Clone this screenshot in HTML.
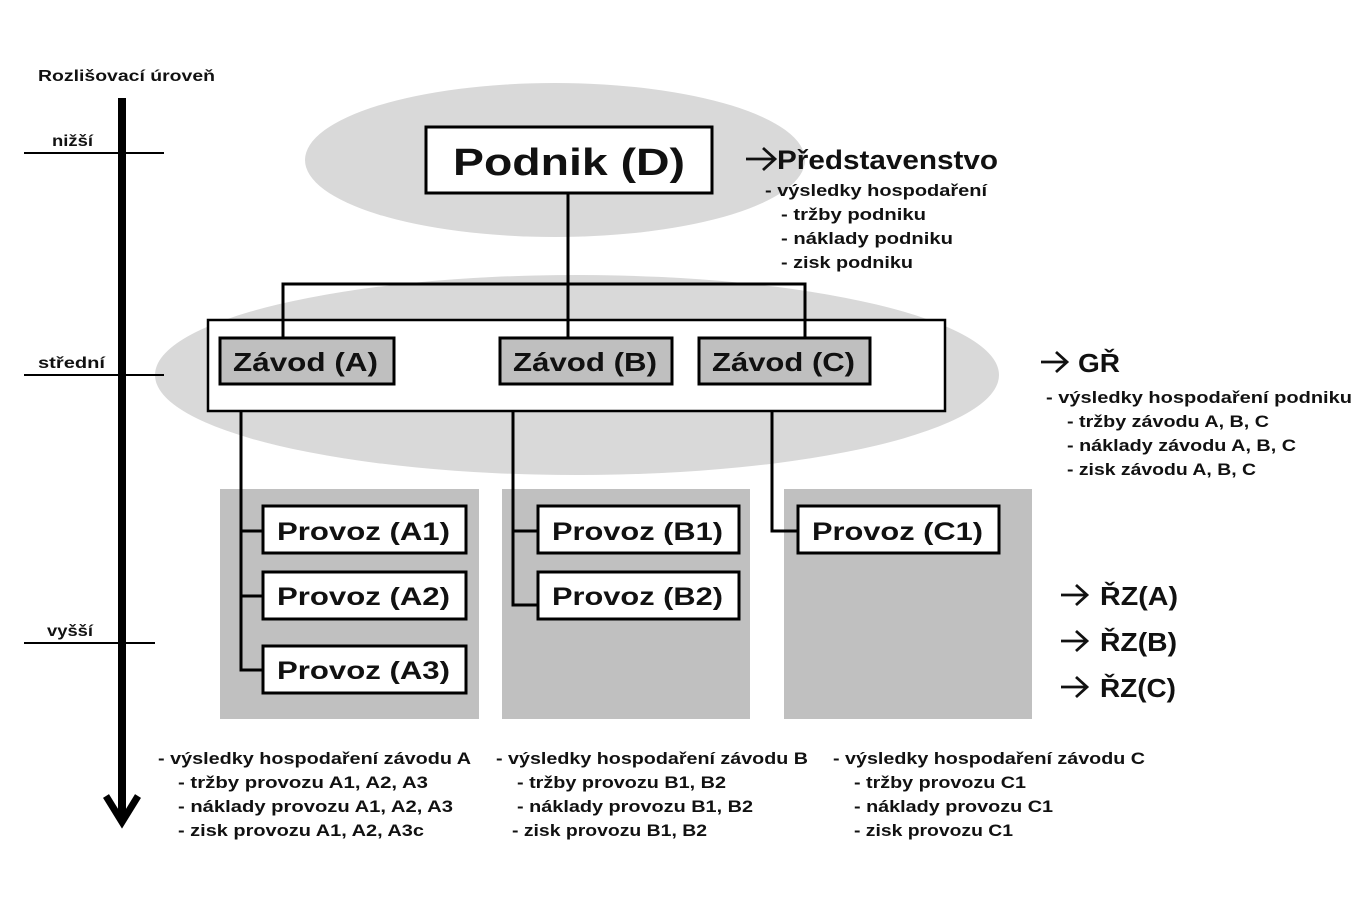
<!DOCTYPE html>
<html><head><meta charset="utf-8"><style>
html,body{margin:0;padding:0;background:#fff;}
svg{display:block;}
text{font-family:"Liberation Sans",sans-serif;font-weight:bold;fill:#111;}
</style></head><body>
<svg width="1371" height="898" viewBox="0 0 1371 898" xmlns="http://www.w3.org/2000/svg">
<ellipse cx="555" cy="160" rx="250" ry="77" fill="#d9d9d9"/>
<ellipse cx="577" cy="375" rx="422" ry="100" fill="#d9d9d9"/>
<rect x="220" y="489" width="259" height="230" fill="#c0c0c0"/>
<rect x="502" y="489" width="248" height="230" fill="#c0c0c0"/>
<rect x="784" y="489" width="248" height="230" fill="#c0c0c0"/>

<text x="38" y="81" font-size="16" textLength="177" lengthAdjust="spacingAndGlyphs">Rozlišovací úroveň</text>
<rect x="118" y="98" width="8" height="720" fill="#000"/>
<polyline points="106,796 122,822 138,796" fill="none" stroke="#000" stroke-width="7"/>
<line x1="24" y1="153" x2="164" y2="153" stroke="#000" stroke-width="2"/>
<line x1="24" y1="375" x2="164" y2="375" stroke="#000" stroke-width="2"/>
<line x1="24" y1="643" x2="155" y2="643" stroke="#000" stroke-width="2"/>
<text x="52" y="146" font-size="16" textLength="41" lengthAdjust="spacingAndGlyphs">nižší</text>
<text x="38" y="368" font-size="16" textLength="67" lengthAdjust="spacingAndGlyphs">střední</text>
<text x="47" y="636" font-size="16" textLength="46" lengthAdjust="spacingAndGlyphs">vyšší</text>

<g stroke="#000" stroke-width="3" fill="none">
<line x1="568" y1="193" x2="568" y2="337"/>
<polyline points="283,337 283,284 805,284 805,337"/>
<polyline points="241,411 241,670 262,670"/>
<line x1="241" y1="531" x2="262" y2="531"/>
<line x1="241" y1="596" x2="262" y2="596"/>
<polyline points="513,411 513,605 537,605"/>
<line x1="513" y1="531" x2="537" y2="531"/>
<polyline points="772,411 772,531 797,531"/>
</g>

<rect x="208" y="320" width="737" height="91" fill="#fff" stroke="#000" stroke-width="2.5"/>
<line x1="283" y1="320" x2="283" y2="337" stroke="#000" stroke-width="3"/>
<line x1="568" y1="320" x2="568" y2="337" stroke="#000" stroke-width="3"/>
<line x1="805" y1="320" x2="805" y2="337" stroke="#000" stroke-width="3"/>

<rect x="426" y="127" width="286" height="66" fill="#fff" stroke="#000" stroke-width="3"/>
<text x="453" y="175" font-size="38" textLength="232" lengthAdjust="spacingAndGlyphs">Podnik (D)</text>

<g fill="#bfbfbf" stroke="#000" stroke-width="3">
<rect x="220" y="338" width="174" height="46"/>
<rect x="500" y="338" width="172" height="46"/>
<rect x="699" y="338" width="171" height="46"/>
</g>
<text x="233" y="371" font-size="26" textLength="145" lengthAdjust="spacingAndGlyphs">Závod  (A)</text>
<text x="513" y="371" font-size="26" textLength="144" lengthAdjust="spacingAndGlyphs">Závod  (B)</text>
<text x="712" y="371" font-size="26" textLength="143" lengthAdjust="spacingAndGlyphs">Závod  (C)</text>

<g fill="#fff" stroke="#000" stroke-width="3">
<rect x="263" y="506" width="203" height="47"/>
<rect x="263" y="572" width="203" height="47"/>
<rect x="263" y="646" width="203" height="47"/>
<rect x="538" y="506" width="201" height="47"/>
<rect x="538" y="572" width="201" height="47"/>
<rect x="798" y="506" width="201" height="47"/>
</g>
<g font-size="25">
<text x="277" y="540" textLength="173" lengthAdjust="spacingAndGlyphs">Provoz  (A1)</text>
<text x="277" y="605" textLength="173" lengthAdjust="spacingAndGlyphs">Provoz  (A2)</text>
<text x="277" y="679" textLength="173" lengthAdjust="spacingAndGlyphs">Provoz  (A3)</text>
<text x="552" y="540" textLength="171" lengthAdjust="spacingAndGlyphs">Provoz  (B1)</text>
<text x="552" y="605" textLength="171" lengthAdjust="spacingAndGlyphs">Provoz  (B2)</text>
<text x="812" y="540" textLength="171" lengthAdjust="spacingAndGlyphs">Provoz  (C1)</text>
</g>

<!-- arrows -->
<g stroke="#111" stroke-width="2.8" fill="none">
<line x1="746" y1="159" x2="774" y2="159"/><polyline points="763,148 775,159 763,170"/>
<line x1="1041" y1="362" x2="1066" y2="362"/><polyline points="1056,352 1067,362 1056,372"/>
<line x1="1061" y1="595" x2="1086" y2="595"/><polyline points="1076,585 1087,595 1076,605"/>
<line x1="1061" y1="641" x2="1086" y2="641"/><polyline points="1076,631 1087,641 1076,651"/>
<line x1="1061" y1="687" x2="1086" y2="687"/><polyline points="1076,677 1087,687 1076,697"/>
</g>

<text x="777" y="169" font-size="27" textLength="221" lengthAdjust="spacingAndGlyphs">Představenstvo</text>
<g font-size="17">
<text x="765" y="196" textLength="222" lengthAdjust="spacingAndGlyphs">- výsledky hospodaření</text>
<text x="781" y="220" textLength="145" lengthAdjust="spacingAndGlyphs">- tržby podniku</text>
<text x="781" y="244" textLength="172" lengthAdjust="spacingAndGlyphs">- náklady podniku</text>
<text x="781" y="268" textLength="132" lengthAdjust="spacingAndGlyphs">- zisk podniku</text>
</g>
<text x="1078" y="372" font-size="26" textLength="42" lengthAdjust="spacingAndGlyphs">GŘ</text>
<g font-size="17">
<text x="1046" y="403" textLength="306" lengthAdjust="spacingAndGlyphs">- výsledky hospodaření podniku</text>
<text x="1067" y="427" textLength="202" lengthAdjust="spacingAndGlyphs">- tržby závodu A, B, C</text>
<text x="1067" y="451" textLength="229" lengthAdjust="spacingAndGlyphs">- náklady závodu A, B, C</text>
<text x="1067" y="475" textLength="189" lengthAdjust="spacingAndGlyphs">- zisk závodu A, B, C</text>
</g>
<g font-size="26">
<text x="1100" y="605" textLength="78" lengthAdjust="spacingAndGlyphs">ŘZ(A)</text>
<text x="1100" y="651" textLength="77" lengthAdjust="spacingAndGlyphs">ŘZ(B)</text>
<text x="1100" y="697" textLength="76" lengthAdjust="spacingAndGlyphs">ŘZ(C)</text>
</g>

<g font-size="17">
<text x="158" y="764" textLength="313" lengthAdjust="spacingAndGlyphs">- výsledky hospodaření závodu A</text>
<text x="178" y="788" textLength="250" lengthAdjust="spacingAndGlyphs">- tržby provozu A1, A2, A3</text>
<text x="178" y="812" textLength="275" lengthAdjust="spacingAndGlyphs">- náklady provozu A1, A2, A3</text>
<text x="178" y="836" textLength="246" lengthAdjust="spacingAndGlyphs">- zisk provozu A1, A2, A3c</text>
<text x="496" y="764" textLength="312" lengthAdjust="spacingAndGlyphs">- výsledky hospodaření závodu B</text>
<text x="517" y="788" textLength="209" lengthAdjust="spacingAndGlyphs">- tržby provozu B1, B2</text>
<text x="517" y="812" textLength="236" lengthAdjust="spacingAndGlyphs">- náklady provozu B1, B2</text>
<text x="512" y="836" textLength="195" lengthAdjust="spacingAndGlyphs">- zisk provozu B1, B2</text>
<text x="833" y="764" textLength="312" lengthAdjust="spacingAndGlyphs">- výsledky hospodaření závodu C</text>
<text x="854" y="788" textLength="172" lengthAdjust="spacingAndGlyphs">- tržby provozu C1</text>
<text x="854" y="812" textLength="199" lengthAdjust="spacingAndGlyphs">- náklady provozu C1</text>
<text x="854" y="836" textLength="159" lengthAdjust="spacingAndGlyphs">- zisk provozu C1</text>
</g>
</svg>
</body></html>
